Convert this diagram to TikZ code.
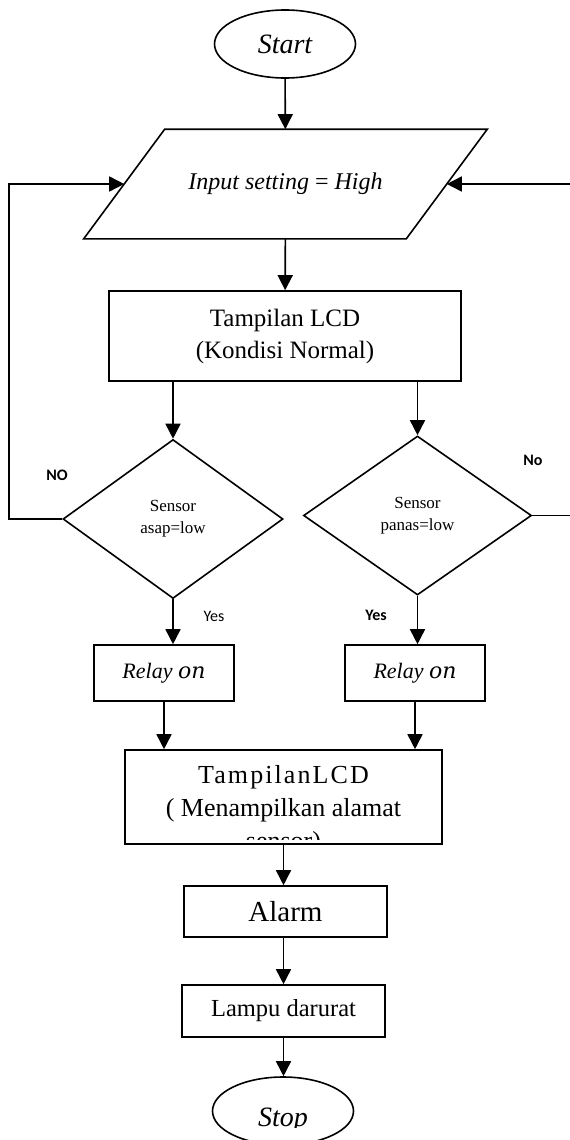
\documentclass[tikz,border=0pt]{standalone}
\usepackage{fontspec}
\setmainfont{Liberation Serif}
\newfontfamily\lblfont{Carlito}
\newfontfamily\onfont{DejaVu Serif}
\usetikzlibrary{shapes,arrows.meta}

\begin{document}
\begin{tikzpicture}[x=1pt, y=-1pt, line width=1.6pt,
  >={Triangle[length=15pt,width=15pt]},
  terminal/.style={draw, ellipse, minimum width=141pt, minimum height=68pt, inner sep=0pt},
  io/.style={rectangle, minimum width=321pt, minimum height=108pt, inner sep=0pt},
  proc/.style={draw, rectangle, inner sep=0pt},
  decision/.style={draw, diamond, inner sep=0pt, minimum height=159pt, align=center,
    font=\fontsize{17}{22}\selectfont},
  answer/.style={font=\lblfont\fontsize{16}{18}\selectfont},
  answerbold/.style={font=\lblfont\bfseries\fontsize{16}{18}\selectfont},
  relaytext/.style={font=\fontsize{22}{26}\selectfont}]
\useasboundingbox (0,0) rectangle (570,1140);
\clip (0,0) rectangle (570,1140);
% top part
\node[terminal, font=\itshape\fontsize{28}{30}\selectfont] (start) at (285,44) {Start};
\node[io, font=\fontsize{24}{26}\selectfont] (setting) at (285.5,184) {\textit{Input setting} = \textit{High}};
\draw ([xshift=40.5pt]setting.north west) -- ([xshift=40.5pt]setting.north east)
  -- ([xshift=-40.5pt]setting.south east) -- ([xshift=-40.5pt]setting.south west) -- cycle;
\node[proc, minimum width=352pt, minimum height=90pt, align=center,
  font=\fontsize{25}{32}\selectfont] (lcd1) at (285,336) {Tampilan LCD\\(Kondisi Normal)};
% sensors
\node[decision, minimum width=220pt] (asap) at (173,519) {Sensor\\asap=low};
\node[decision, minimum width=228pt] (panas) at (417.5,515.5) {Sensor\\panas=low};
\node[proc, minimum width=140pt, minimum height=56pt, relaytext] (relay1) at (164,673)
  {\textit{Relay} {\onfont\itshape on}};
\node[proc, minimum width=140pt, minimum height=56pt, relaytext] (relay2) at (415,673)
  {\textit{Relay} {\onfont\itshape on}};
% bottom part
\node[proc, minimum width=317pt, minimum height=94pt] (lcd2) at (283.5,797) {};
\begin{scope}
  \clip (lcd2.north west) rectangle ([yshift=5pt]lcd2.south east);
  \node[anchor=north, inner sep=0pt, align=center, font=\fontsize{26}{33}\selectfont] (lcd2txt)
    at ([yshift=-15pt]lcd2.north) {{\addfontfeatures{LetterSpace=8}TampilanLCD}\\( Menampilkan alamat\\sensor)};
\end{scope}
\node[proc, minimum width=203pt, minimum height=51pt, font=\fontsize{29}{32}\selectfont] (alarm) at (285.5,911.5) {Alarm};
\node[proc, minimum width=203pt, minimum height=52pt, font=\fontsize{24.5}{28}\selectfont] (lampu) at (283.5,1011) {Lampu darurat};
\node[terminal] (stop) at (283,1111) {};
\begin{scope}
  \clip (0,0) rectangle (570,1127);
  \node[anchor=base, inner sep=0pt, font=\itshape\fontsize{28}{30}\selectfont] (stoptxt) at (283,1126) {Stop};
\end{scope}
% labels
\node[answerbold] (noasap) at (57,475) {NO};
\node[answerbold] (nopanas) at (533,460) {No};
\node[answer] (yesasap) at (214,616) {Yes};
\node[answerbold] (yespanas) at (376,615) {Yes};
% flow
\draw[->] (start) -- (setting);
\draw[->] (setting) -- (lcd1);
\draw[->] (lcd1.south -| asap.north) -- (asap.north);
\draw[->] (lcd1.south -| panas.north) -- (panas.north);
\draw[->] (asap.south) -- (asap.south |- relay1.north);
\draw[->] (panas.south) -- (panas.south |- relay2.north);
\draw[->] (relay1.south) -- (relay1.south |- lcd2.north);
\draw[->] (relay2.south) -- (relay2.south |- lcd2.north);
\draw[->] (lcd2.south) -- (lcd2.south |- alarm.north);
\draw[->] (alarm.south -| lampu.north) -- (lampu.north);
\draw[->] (lampu.south) -- (lampu.south |- stop.north);
% loops back
\coordinate (leftrail) at (9,184);
\coordinate (rightrail) at (572,184);
\draw[->] (asap.west) -| (leftrail) -- (setting.west);
\draw[->] (panas.east) -| (rightrail) -- (setting.east);
\end{tikzpicture}
\end{document}
